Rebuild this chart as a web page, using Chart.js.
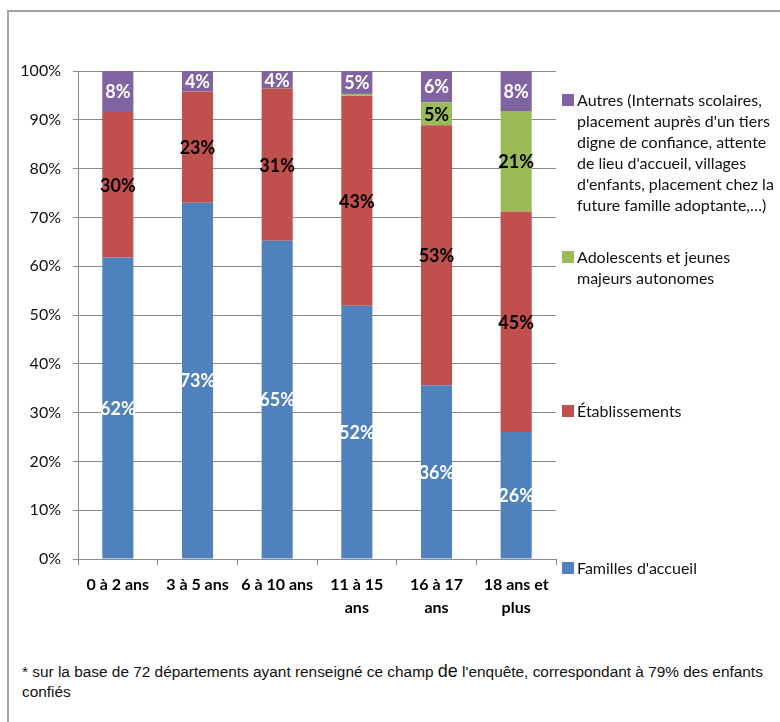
<!DOCTYPE html>
<html lang="fr">
<head>
<meta charset="UTF-8">
<title>Modes d'accueil par âge</title>
<script src="https://cdnjs.cloudflare.com/ajax/libs/Chart.js/4.4.0/chart.umd.min.js"></script>
<style>
    * { margin: 0; padding: 0; box-sizing: border-box; }
    body { width: 780px; height: 722px; background: #fff; position: relative; overflow: hidden; font-family: Lato, sans-serif; }
    .frame { position: absolute; left: 7px; top: 10px; width: 900px; height: 900px; border: 2px solid #a3a3a3; }
    #chart { position: absolute; left: 0; top: 0; }
    .legend-item { position: absolute; left: 562px; }
    .legend-item .swatch { position: absolute; left: 0; top: 5px; width: 12px; height: 12px; }
    .legend-item .text { position: absolute; left: 15px; top: 0; width: 215px; font-size: 16px; line-height: 21px; color: #111; white-space: pre-line; }
    .note { position: absolute; left: 22px; top: 661px; width: 755px; font-family: "Liberation Sans", sans-serif; font-size: 15.4px; line-height: 20px; color: #111; }
    .note .big { font-size: 18px; }
</style>
</head>
<body>
<div class="frame"></div>
<canvas id="chart" width="780" height="640"></canvas>
<div id="legend"></div>
<div class="note">* sur la base de 72 départements ayant renseigné ce champ <span class="big">de</span> l'enquête, correspondant à 79% des enfants confiés</div>

<script>
// tranches d'âge
const ageGroups = [['0 à 2 ans'], ['3 à 5 ans'], ['6 à 10 ans'], ['11 à 15', 'ans'], ['16 à 17', 'ans'], ['18 ans et', 'plus']];

// parts en %
const familles = [61.8, 73.0, 65.2, 51.9, 35.6, 26.0];
const etablissements = [29.8, 22.8, 31.2, 43.0, 53.3, 45.2];
const adolescents = [0, 0, 0, 0.4, 4.7, 20.6];
const autres = [8.4, 4.2, 3.6, 4.7, 6.4, 8.2];

const yTicks = [0, 10, 20, 30, 40, 50, 60, 70, 80, 90, 100];

const seriesNames = [
    "Familles d'accueil",
    'Établissements',
    'Adolescents et jeunes\nmajeurs autonomes',
    "Autres (Internats scolaires,\nplacement auprès d'un tiers\ndigne de confiance, attente\nde lieu d'accueil, villages\nd'enfants, placement chez la\nfuture famille adoptante,…)"
];
const colors = ['#4f81bd', '#c0504d', '#9bbb59', '#8064a2'];
const labelColors = ['#ffffff', '#000000', '#000000', '#ffffff'];
const legendCenters = [568, 411, 257, 100];

const gridColor = '#8a8a8a';

// étiquettes de valeur au centre de chaque segment
const segmentLabels = {
    id: 'segmentLabels',
    afterDatasetsDraw(chart) {
        const ctx = chart.ctx;
        ctx.save();
        ctx.font = 'bold 18px Lato';
        ctx.textAlign = 'center';
        ctx.textBaseline = 'middle';
        chart.data.datasets.forEach((ds, i) => {
            chart.getDatasetMeta(i).data.forEach((bar, j) => {
                const v = ds.data[j];
                if (v < 1) return;
                ctx.fillStyle = labelColors[i];
                ctx.fillText(Math.round(v) + '%', bar.x, (bar.y + bar.base) / 2 + 1);
            });
        });
        ctx.restore();
    }
};

const datasets = [familles, etablissements, adolescents, autres].map((d, i) => ({
    label: seriesNames[i],
    data: d,
    backgroundColor: colors[i],
    borderWidth: 0,
    categoryPercentage: 1,
    barPercentage: 0.39
}));

const chart = new Chart(document.getElementById('chart'), {
    type: 'bar',
    data: { labels: ageGroups, datasets: datasets },
    options: {
        responsive: false,
        animation: false,
        layout: { padding: { left: 0, top: 71, right: 224, bottom: 21 } },
        plugins: { legend: { display: false }, tooltip: { enabled: false } },
        scales: {
            x: {
                stacked: true,
                afterFit: s => { s.height = 60; },
                grid: { drawOnChartArea: false, offset: true, tickLength: 6, color: gridColor },
                border: { color: gridColor },
                ticks: { color: '#000', padding: 8, font: { family: 'Lato', size: 16, weight: 'bold', lineHeight: 1.45 } }
            },
            y: {
                stacked: true,
                min: 0,
                max: 100,
                afterFit: s => { s.width = 78; },
                afterBuildTicks: s => { s.ticks = yTicks.map(v => ({ value: v })); },
                grid: { tickLength: 5, color: gridColor },
                border: { color: gridColor },
                ticks: { color: '#111', padding: 12, font: { family: 'Lato', size: 16 }, callback: v => v + '%' }
            }
        }
    },
    plugins: [segmentLabels]
});

// légende à droite, de haut en bas
const legend = document.getElementById('legend');
chart.data.datasets.forEach((ds, i) => {
    const item = document.createElement('div');
    item.className = 'legend-item';
    item.style.top = (legendCenters[i] - 11) + 'px';
    item.innerHTML = '<span class="swatch"></span><span class="text"></span>';
    item.querySelector('.swatch').style.background = ds.backgroundColor;
    item.querySelector('.text').textContent = ds.label;
    legend.appendChild(item);
});
</script>
</body>
</html>
